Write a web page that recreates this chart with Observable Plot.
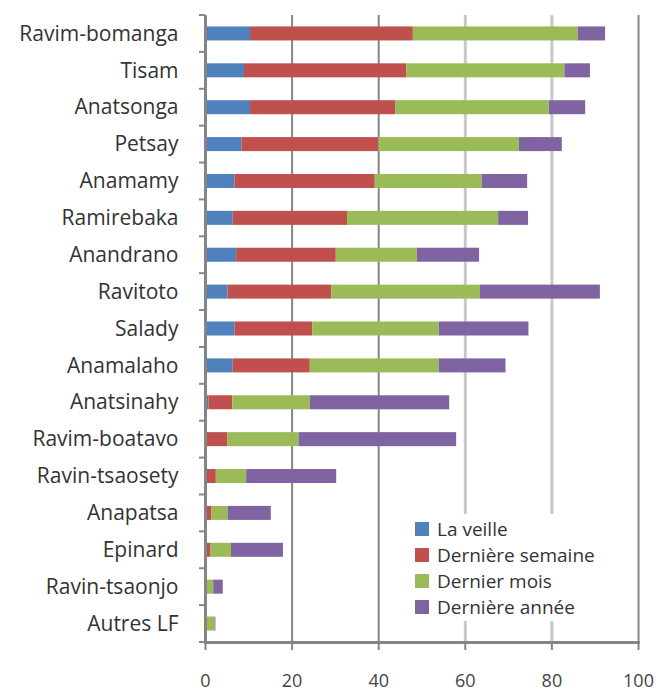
<!DOCTYPE html>
<html><head><meta charset="utf-8">
<script src="https://cdn.jsdelivr.net/npm/d3@7"></script>
<script src="https://cdn.jsdelivr.net/npm/@observablehq/plot@0.6"></script>
<style>
body{margin:0;background:#fff;font-family:"Open Sans",sans-serif;}
#wrap{position:relative;width:662px;height:694px;}
#legend{position:absolute;left:406px;top:514px;width:222px;height:107px;background:#fff;color:#333;font-size:19px;box-sizing:border-box;padding-top:2px;}
#legend .row{display:flex;align-items:center;height:26px;}
#legend .sw{width:14px;height:14px;margin-left:9px;margin-right:8px;flex:none;}
</style></head><body><div id="wrap"></div>
<script>
const categories = ["Ravim-bomanga","Tisam","Anatsonga","Petsay","Anamamy","Ramirebaka","Anandrano","Ravitoto","Salady","Anamalaho","Anatsinahy","Ravim-boatavo","Ravin-tsaosety","Anapatsa","Epinard","Ravin-tsaonjo","Autres LF"];
const laVeille        = [10.4, 9.0, 10.4, 8.4, 6.8, 6.4, 7.2, 5.2, 6.8, 6.4, 0.8, 0, 0, 0, 0, 0, 0];
const derniereSemaine = [37.6, 37.5, 33.5, 31.6, 32.4, 26.4, 23.0, 24.0, 18.0, 17.8, 5.5, 5.2, 2.5, 1.4, 1.3, 0, 0];
const dernierMois     = [38.1, 36.5, 35.5, 32.5, 24.7, 34.9, 18.7, 34.3, 29.2, 29.8, 17.9, 16.4, 7.0, 3.8, 4.7, 1.9, 2.2];
const derniereAnnee   = [6.3, 5.9, 8.4, 9.9, 10.5, 6.9, 14.4, 27.7, 20.7, 15.4, 32.2, 36.4, 20.8, 10.0, 12.0, 2.2, 0.2];
const seriesNames  = ["La veille","Dernière semaine","Dernier mois","Dernière année"];
const seriesColors = ["#4F81BD","#C0504D","#9BBB59","#8064A2"];
const xTicks   = [0,20,40,60,80,100];
const darkGrid = [20,40,100];
const lightGrid = [60,80];

const seriesValues = [laVeille, derniereSemaine, dernierMois, derniereAnnee];
const data = [];
categories.forEach((c, i) => {
  seriesNames.forEach((s, j) => data.push({cat: c, series: s, value: seriesValues[j][i]}));
});

function bandTicks(index, scales, values, dims) {
  const y = scales.y;
  const n = categories.length;
  const h = dims.height - dims.marginTop - dims.marginBottom;
  const step = (y && y.step) ? y.step() : h / n;
  const g = d3.create("svg:g");
  const x0 = dims.marginLeft;
  const bounds = [];
  categories.forEach((c, i) => {
    let center;
    if (y && y.bandwidth) center = y(c) + y.bandwidth() / 2;
    else center = dims.marginTop + step * (i + 0.5);
    bounds.push(center - step / 2);
    if (i === n - 1) bounds.push(center + step / 2);
  });
  for (const b of bounds) {
    g.append("line").attr("x1", x0 - 6).attr("x2", x0).attr("y1", b).attr("y2", b)
      .attr("stroke", "#888").attr("stroke-width", 2);
  }
  return g.node();
}

const chart = Plot.plot({
  width: 662,
  height: 694,
  marginLeft: 205,
  marginRight: 24,
  marginTop: 15,
  marginBottom: 52,
  style: {fontFamily: "'Open Sans', sans-serif", background: "#fff"},
  x: {domain: [0, 100], ticks: xTicks, label: null},
  y: {domain: categories, paddingInner: 0.62, paddingOuter: 0.31, round: false, label: null},
  color: {domain: seriesNames, range: seriesColors},
  marks: [
    Plot.ruleX(lightGrid, {stroke: "#c8c8c8", strokeWidth: 3}),
    Plot.ruleX(darkGrid, {stroke: "#858585", strokeWidth: 2}),
    Plot.barX(data, {x: "value", y: "cat", fill: "series"}),
    Plot.ruleX([0], {stroke: "#858585", strokeWidth: 3}),
    Plot.frame({anchor: "bottom", stroke: "#858585", strokeWidth: 3}),
    bandTicks,
    Plot.axisY({tickSize: 0, tickPadding: 27, fontSize: 21, color: "#333"}),
    Plot.axisX({ticks: xTicks, tickSize: 8, tickPadding: 24, fontSize: 18, color: "#444", stroke: "#858585", strokeWidth: 2})
  ]
});
document.getElementById("wrap").appendChild(chart);

const legend = document.createElement("div");
legend.id = "legend";
seriesNames.forEach((s, j) => {
  const row = document.createElement("div");
  row.className = "row";
  const sw = document.createElement("span");
  sw.className = "sw";
  sw.style.background = seriesColors[j];
  const t = document.createElement("span");
  t.textContent = s;
  row.appendChild(sw); row.appendChild(t);
  legend.appendChild(row);
});
document.getElementById("wrap").appendChild(legend);
</script>
</body></html>
